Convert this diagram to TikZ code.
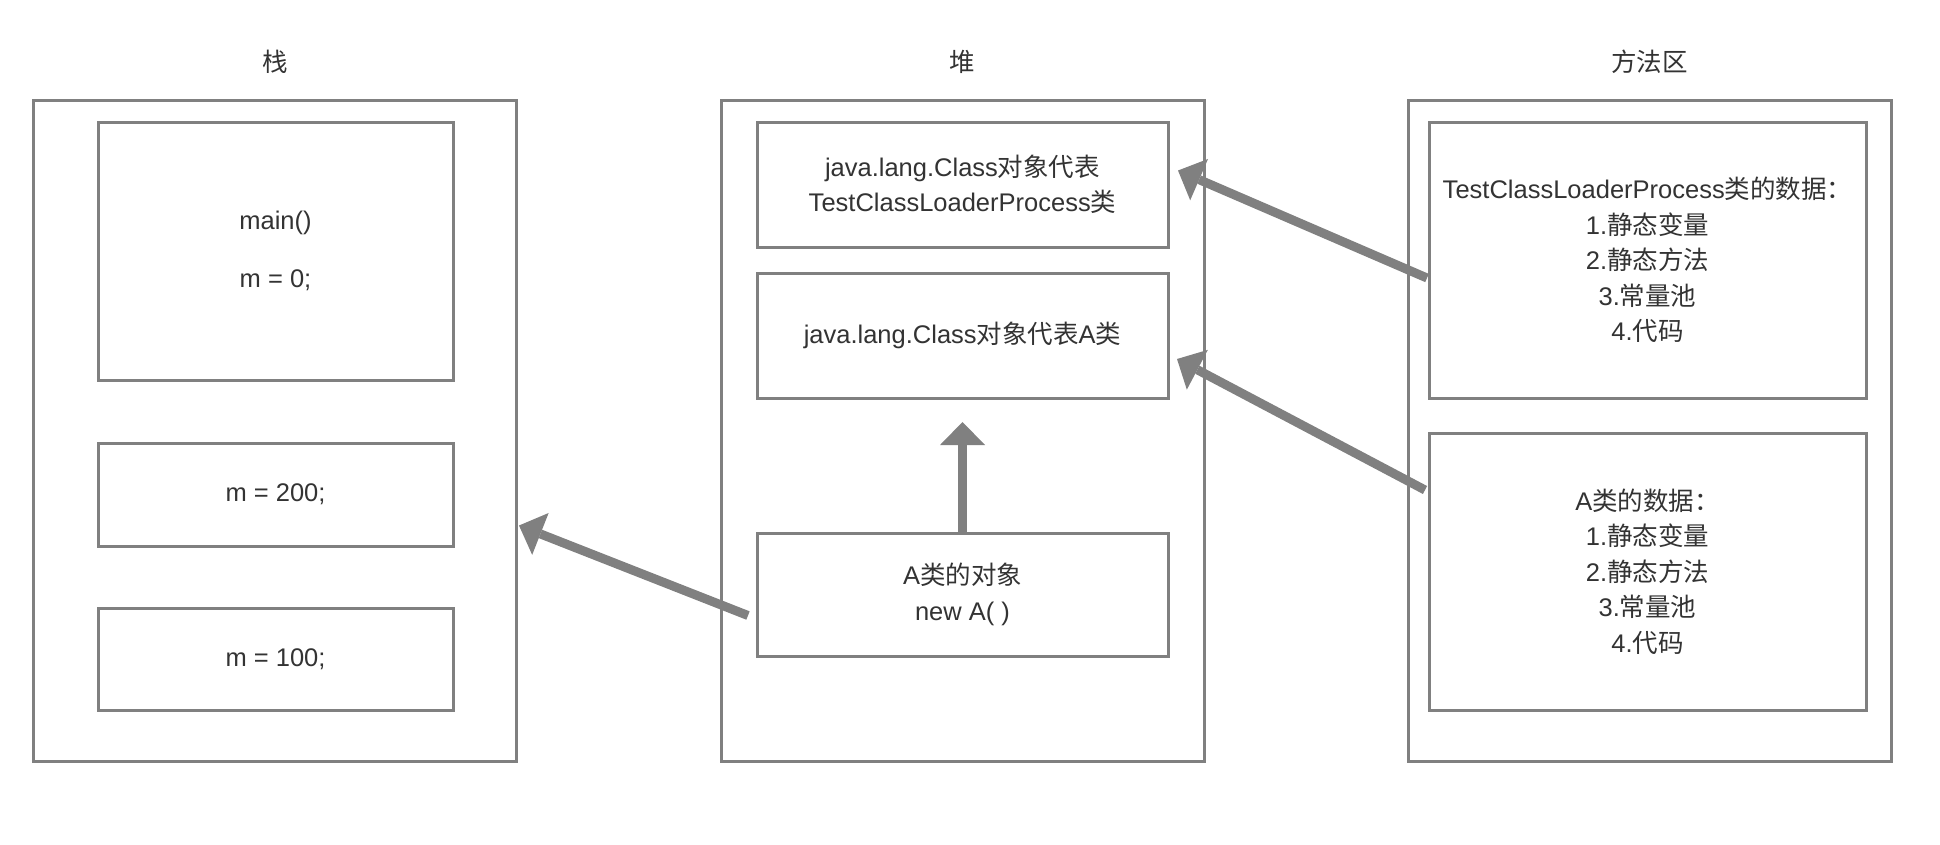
\documentclass[tikz,border=0pt]{standalone}
\usepackage{fontspec}
\setmainfont{Liberation Sans}
\newfontfamily\cjk{Noto Sans CJK SC}
\usetikzlibrary{arrows.meta}
\definecolor{lc}{RGB}{128,128,128}
\definecolor{txt}{RGB}{51,51,51}
\begin{document}
\begin{tikzpicture}[x=1pt,y=-1pt,
  every node/.style={text=txt, font=\fontsize{25.5}{35.5}\selectfont, align=center, inner sep=0pt, outer sep=0pt},
  box/.style={draw=lc, line width=3pt, fill=white},
  title/.style={text=txt},
  bigarrow/.style={draw=lc, line width=9pt, -{Triangle[width=45pt,length=23pt,line width=0pt]}}]
\useasboundingbox (0,0) rectangle (1940,844);
% outer frames
\node[box, minimum width=482.5pt, minimum height=661pt] (stk) at (274.75,430.5) {};
\node[box, minimum width=483pt, minimum height=661pt] (heap) at (962.5,430.5) {};
\node[box, minimum width=483pt, minimum height=661pt] (meth) at (1649.5,430.5) {};
% titles
\node[title] (tstk) at (274.75,62) {\cjk 栈};
\node[title] (theap) at (962.5,62) {\cjk 堆};
\node[title] (tmeth) at (1649.5,62) {\cjk 方法区};
% stack
\node[box, minimum width=355pt, minimum height=258pt] (mainb) at (275.5,251) {main()\\[23pt]m = 0;};
\node[box, minimum width=355pt, minimum height=103pt] (m200) at (275.5,494.5) {m = 200;};
\node[box, minimum width=355pt, minimum height=102pt] (m100) at (275.5,659) {m = 100;};
% heap
\node[box, minimum width=411pt, minimum height=125pt] (tcls) at (962.5,184.5) {java.lang.Class{\cjk 对象代表}\\TestClassLoaderProcess{\cjk 类}};
\node[box, minimum width=411pt, minimum height=125pt] (acls) at (962.5,335.5) {java.lang.Class{\cjk 对象代表}A{\cjk 类}};
\node[box, minimum width=411pt, minimum height=123pt] (aobj) at (962.5,594.5) {A{\cjk 类的对象}\\new A( )};
% method area
\node[box, minimum width=437pt, minimum height=276pt] (tdat) at (1647.5,260) {TestClassLoaderProcess{\cjk 类的数据：}\\1.{\cjk 静态变量}\\2.{\cjk 静态方法}\\3.{\cjk 常量池}\\4.{\cjk 代码}};
\node[box, minimum width=437pt, minimum height=277pt] (adat) at (1647.5,571.5) {A{\cjk 类的数据：}\\1.{\cjk 静态变量}\\2.{\cjk 静态方法}\\3.{\cjk 常量池}\\4.{\cjk 代码}};
% arrows
\draw[bigarrow] ([shift={(-2,18)}]tdat.west) -- ([shift={(10,-14)}]tcls.east);
\draw[bigarrow] ([shift={(-4,-81.5)}]adat.west) -- ([shift={(9,23.5)}]acls.east);
\draw[bigarrow] ([shift={(-9,21)}]aobj.west) -- ([shift={(3,95)}]stk.east);
\draw[bigarrow] (aobj.north) -- ([shift={(0,24)}]acls.south);
\end{tikzpicture}
\end{document}
